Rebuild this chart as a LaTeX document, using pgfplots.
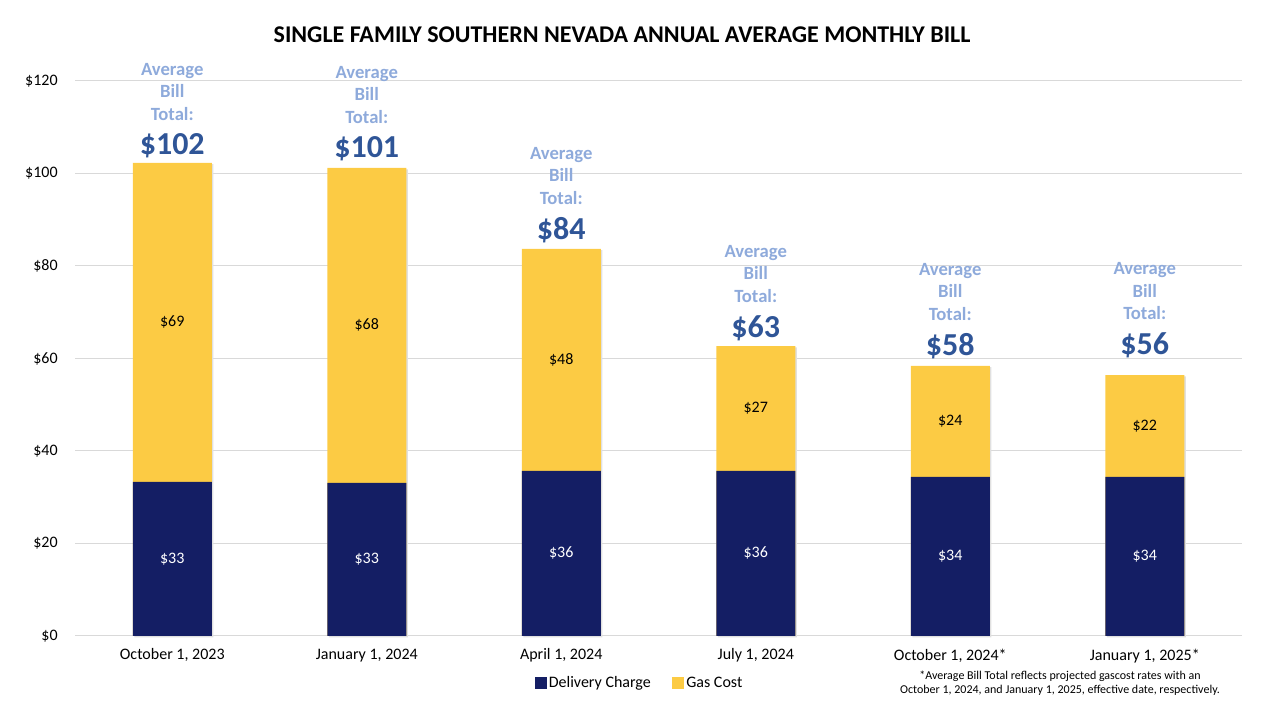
\documentclass[border=0pt]{standalone}
\usepackage{pgfplots}
\usepackage{pgfplotstable}
\pgfplotsset{compat=1.18}
\usepackage{fontspec}
\setmainfont{Carlito}
\definecolor{navy}{RGB}{20,30,100}
\definecolor{gasc}{RGB}{252,203,68}
\definecolor{avgc}{RGB}{142,170,219}
\definecolor{totc}{RGB}{47,85,151}
\definecolor{gridc}{RGB}{217,217,217}
\pgfplotstableread{
x del total delmid gasmid laby dellab gaslab totlab
0 33.3 102.3 16.65 67.80 106.0 33 69 102
1 33.1 101.2 16.55 67.15 105.3 33 68 101
2 35.7 83.7 17.85 59.70 87.8 36 48 84
3 35.7 62.7 17.85 49.20 66.6 36 27 63
4 34.4 58.4 17.20 46.40 62.7 34 24 58
5 34.4 56.4 17.20 45.40 62.9 34 22 56
}\datatable
\begin{document}
\begin{tikzpicture}
\useasboundingbox (0,0) rectangle (960pt,540pt);
\node[font=\fontsize{18}{21}\selectfont\bfseries] at (466.5pt,513.75pt) {SINGLE FAMILY SOUTHERN NEVADA ANNUAL AVERAGE MONTHLY BILL};
\begin{axis}[
  at={(56.25pt,63pt)}, anchor=south west,
  width=875.25pt, height=416.25pt, scale only axis,
  xmin=-0.5, xmax=5.5, ymin=0, ymax=120,
  clip=false,
  axis line style={draw=none},
  major tick length=0pt,
  ytick={0,20,...,120},
  ymajorgrids, grid style={color=gridc, line width=0.75pt},
  yticklabel={\$\pgfmathprintnumber{\tick}},
  /pgf/number format/assume math mode=true,
  yticklabel style={font=\fontsize{12}{14}\selectfont, xshift=-9.5pt},
  xtick={0,...,5},
  xticklabels={{October 1, 2023},{January 1, 2024},{April 1, 2024},{July 1, 2024},{October 1, 2024*},{January 1, 2025*}},
  xticklabel style={font=\fontsize{12}{14}\selectfont, yshift=-6pt},
  legend style={at={(axis description cs:0.484,-0.0847)}, anchor=center, draw=none, fill=none,
    font=\fontsize{12}{14}\selectfont, legend columns=2,
    /tikz/every even column/.append style={column sep=14pt}},
  legend cell align=left,
]
\addlegendimage{legend image code/.code={\fill[navy] (0pt,-4pt) rectangle (8.25pt,4.25pt);}}
\addlegendentry{Delivery Charge}
\addlegendimage{legend image code/.code={\fill[gasc] (0pt,-4pt) rectangle (8.25pt,4.25pt);}}
\addlegendentry{Gas Cost}
\addplot[ybar, bar width=59.25pt, bar shift=1.2pt, fill=black!12, draw=none, forget plot, yshift=-1pt] table[x=x, y=total] {\datatable};
\addplot[ybar, bar width=59.25pt, bar shift=0pt, fill=gasc, draw=none, forget plot] table[x=x, y=total] {\datatable};
\addplot[ybar, bar width=59.25pt, bar shift=0pt, fill=navy, draw=none, forget plot] table[x=x, y=del] {\datatable};
\addplot[draw=none, mark=none, forget plot, point meta=explicit symbolic,
  nodes near coords={\$\pgfplotspointmeta},
  nodes near coords style={anchor=center, text=white, font=\fontsize{12}{14}\selectfont}]
  table[x=x, y=delmid, meta=dellab] {\datatable};
\addplot[draw=none, mark=none, forget plot, point meta=explicit symbolic,
  nodes near coords={\$\pgfplotspointmeta},
  nodes near coords style={anchor=center, text=black, font=\fontsize{12}{14}\selectfont}]
  table[x=x, y=gasmid, meta=gaslab] {\datatable};
\addplot[draw=none, mark=none, forget plot, point meta=explicit symbolic,
  nodes near coords={\$\pgfplotspointmeta},
  nodes near coords style={anchor=center, text=totc, font=\fontsize{24}{28}\selectfont\bfseries}]
  table[x=x, y=laby, meta=totlab] {\datatable};
\addplot[draw=none, mark=none, forget plot, point meta=explicit symbolic,
  nodes near coords={Average\\Bill\\Total:},
  nodes near coords style={anchor=center, align=center, yshift=40.5pt, text=avgc, font=\fontsize{14}{16.9}\selectfont\bfseries}]
  table[x=x, y=laby, meta=totlab] {\datatable};
\end{axis}
\node[align=center, font=\fontsize{9}{10.5}\selectfont] at (795pt,27.75pt) {*Average Bill Total reflects projected gascost rates with an\\October 1, 2024, and January 1, 2025, effective date, respectively.};
\end{tikzpicture}
\end{document}
